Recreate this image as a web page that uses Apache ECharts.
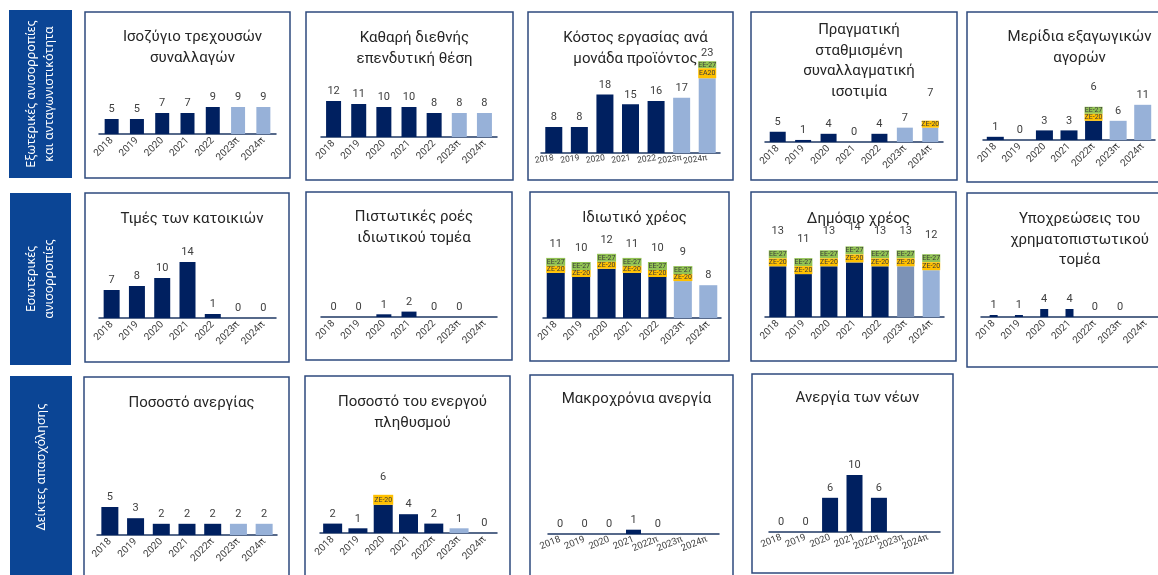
<!DOCTYPE html>
<html>
<head>
<meta charset="utf-8">
<script src="https://cdn.jsdelivr.net/npm/echarts@6/dist/echarts.min.js"></script>
<style>
  html, body { margin: 0; padding: 0; background: #fff; }
  #chart { width: 1158px; height: 575px; }
</style>
</head>
<body>
<div id="chart"></div>
<script>
// categories
const years = ["2018", "2019", "2020", "2021", "2022", "2023π", "2024π"];
const yearsP = ["2018", "2019", "2020", "2021", "2022π", "2023π", "2024π"];

// values (bar heights / labels)
const currentAccount = [5, 5, 7, 7, 9, 9, 9];
const netIip = [12, 11, 10, 10, 8, 8, 8];
const unitLabourCost = [8, 8, 18, 15, 16, 17, 23];
const reer = [5, 1, 4, 0, 4, 7, 7];
const exportShares = [1, 0, 3, 3, 6, 6, 11];
const housePrices = [7, 8, 10, 14, 1, 0, 0];
const privateCredit = [0, 0, 1, 2, 0, 0, null];
const privateDebt = [11, 10, 12, 11, 10, 9, 8];
const publicDebt = [13, 11, 13, 14, 13, 13, 12];
const financialLiabilities = [1, 1, 4, 4, 0, 0, null];
const unemployment = [5, 3, 2, 2, 2, 2, 2];
const activityRate = [2, 1, 6, 4, 2, 1, 0];
const longTermUnemployment = [0, 0, 0, 1, 0, null, null];
const youthUnemployment = [0, 0, 6, 10, 6, null, null];

// where the EU / euro-area reference marks sit on top of a bar
const ulcRefs = [0, 0, 0, 0, 0, 0, 1];
const reerRefs = [0, 0, 0, 0, 0, 0, 1];
const exportRefs = [0, 0, 0, 0, 1, 0, 0];
const privateDebtRefs = [1, 1, 1, 1, 1, 1, 0];
const publicDebtRefs = [1, 1, 1, 1, 1, 1, 1];
const activityRefs = [0, 0, 1, 0, 0, 0, 0];

const groupLabels = [
  "Εξωτερικές ανισορροπίες\nκαι ανταγωνιστικότητα",
  "Εσωτερικές\nανισορροπίες",
  "Δείκτες απασχόλησης",
];

const NAVY = "#002060";
const LIGHT = "#97b1d8";
const FONT = "Roboto";

const panels = [
  { title: "Ισοζύγιο τρεχουσών\nσυναλλαγών", cats: years, values: currentAccount,
    box: [85, 12, 205, 166], axis: [99, 276], base: 134, ppu: 3, titleTop: 22, barW: 14 },
  { title: "Καθαρή διεθνής\nεπενδυτική θέση", cats: years, values: netIip,
    box: [306, 12, 207, 168], axis: [321, 497], base: 137, ppu: 3, titleTop: 23, barW: 15 },
  { title: "Κόστος εργασίας ανά\nμονάδα προϊόντος", cats: years, values: unitLabourCost,
    box: [528, 12, 205, 168], axis: [541, 720], base: 153, ppu: 3.25, titleTop: 23, barW: 17,
    rotate: 8, labelSize: 8.5,
    refs: ulcRefs, tags: ["ΕΕ-27", "ΕΑ20"], tagH: [7, 10], gap: 1 },
  { title: "Πραγματική\nσταθμισμένη\nσυναλλαγματική\nισοτιμία", cats: years, values: reer,
    box: [751, 12, 206, 168], axis: [765, 943], base: 142, ppu: 2.05, titleTop: 15, barW: 16,
    refs: reerRefs, tags: ["ΖΕ-20"], tagH: [7], gap: 20 },
  { title: "Μερίδια εξαγωγικών\nαγορών", cats: yearsP, values: exportShares,
    box: [967, 12, 215, 170], axis: [983, 1155], base: 140, ppu: 3.2, titleTop: 22, barW: 17,
    refs: exportRefs, tags: ["ΕΕ-27", "ΖΕ-20"], tagH: [7, 7], gap: 13 },

  { title: "Τιμές των κατοικιών", cats: years, values: housePrices,
    box: [85, 193, 204, 169], axis: [99, 276], base: 318, ppu: 4, titleTop: 204, barW: 16 },
  { title: "Πιστωτικές ροές\nιδιωτικού τομέα", cats: years, values: privateCredit,
    box: [306, 192, 206, 168], axis: [321, 497], base: 317, ppu: 2.7, titleTop: 202, barW: 15 },
  { title: "Ιδιωτικό χρέος", cats: years, values: privateDebt,
    box: [530, 192, 199, 169], axis: [543, 721], base: 318, ppu: 4.1, titleTop: 203, barW: 18,
    refs: privateDebtRefs, tags: ["ΕΕ-27", "ΖΕ-20"], tagH: [8, 7], gap: 7 },
  { title: "Δημόσιο χρέος", cats: years, values: publicDebt,
    box: [751, 192, 205, 169], axis: [765, 944], base: 317, ppu: 3.9, titleTop: 204, barW: 17,
    refs: publicDebtRefs, tags: ["ΕΕ-27", "ΖΕ-20"], tagH: [8, 8], gap: 12, mid2023: true },
  { title: "Υποχρεώσεις του\nχρηματοπιστωτικού\nτομέα", cats: yearsP, values: financialLiabilities,
    box: [967, 193, 215, 174], axis: [981, 1158], base: 317, ppu: 2, titleTop: 204, barW: 8 },

  { title: "Ποσοστό ανεργίας", cats: yearsP, values: unemployment,
    box: [84, 377, 205, 220], axis: [97, 277], base: 535, ppu: 5.6, titleTop: 388, barW: 17 },
  { title: "Ποσοστό του ενεργού\nπληθυσμού", cats: yearsP, values: activityRate,
    box: [305, 376, 205, 220], axis: [320, 497], base: 533, ppu: 4.7, titleTop: 387, barW: 19,
    refs: activityRefs, tags: ["ΖΕ-20"], tagH: [10], gap: 11 },
  { title: "Μακροχρόνια ανεργία", cats: yearsP, values: longTermUnemployment,
    box: [530, 375, 203, 220], axis: [548, 719], base: 534, ppu: 4.3, titleTop: 384, barW: 15,
    rotate: 22, labelSize: 9.5 },
  { title: "Ανεργία των νέων", cats: yearsP, values: youthUnemployment,
    box: [752, 374, 201, 199], axis: [769, 940], base: 532, ppu: 5.7, titleTop: 383, barW: 16,
    rotate: 22, labelSize: 9.5 },
];

const chart = echarts.init(document.getElementById("chart"));

const grids = [], xAxes = [], yAxes = [], series = [], titles = [], graphics = [];

const sideBoxes = [[9, 10, 63, 168], [10, 193, 61, 172], [10, 376, 62, 210]];
sideBoxes.forEach((b, i) => {
  graphics.push({ type: "rect", shape: { x: b[0], y: b[1], width: b[2], height: b[3] },
    style: { fill: "#0b4595" }, z: 1 });
  const cy = i === 2 ? 467 : b[1] + b[3] / 2;
  graphics.push({ type: "text", x: b[0] + b[2] / 2, y: cy, rotation: Math.PI / 2, z: 2,
    style: { text: groupLabels[i], fill: "#fff", font: '12.5px "Noto Sans"', lineHeight: 18,
      textAlign: "center", textVerticalAlign: "middle", align: "center", verticalAlign: "middle" } });
});

panels.forEach((p, i) => {
  const [bx, by, bw, bh] = p.box;
  graphics.push({ type: "rect", shape: { x: bx, y: by, width: bw, height: bh },
    style: { fill: "none", stroke: "#2e4a7d", lineWidth: 1.5 }, z: 1 });

  titles.push({ text: p.title, left: bx + bw / 2, top: p.titleTop, textAlign: "center",
    textStyle: { fontFamily: FONT, fontSize: 15, fontWeight: "normal", color: "#262626", lineHeight: 20.5 } });

  const h = p.base - by - 8;
  grids.push({ left: p.axis[0], width: p.axis[1] - p.axis[0], top: p.base - h, height: h, containLabel: false });
  xAxes.push({ gridIndex: i, type: "category", data: p.cats,
    axisLine: { lineStyle: { color: "#1f3864", width: 1.5 } }, axisTick: { show: false },
    axisLabel: { interval: 0, rotate: p.rotate === undefined ? 45 : p.rotate, fontSize: p.labelSize || 10,
      margin: 5, color: "#404040", fontFamily: FONT } });
  yAxes.push({ gridIndex: i, show: false, min: 0, max: h / p.ppu, splitLine: { show: false } });

  const data = p.values.map((v, k) => {
    const item = { value: v };
    if (p.refs && p.refs[k]) {
      const rich = {
        n: { fontSize: 11, color: "#404040", lineHeight: 14, fontFamily: FONT },
        g: { height: p.gap, lineHeight: p.gap, fontSize: 1 },
      };
      let txt = "{n|" + v + "}\n{g| }";
      p.tags.forEach((t, j) => {
        rich["t" + j] = { backgroundColor: t === "ΕΕ-27" ? "#92c353" : "#ffc000",
          width: p.barW + 1, height: p.tagH[j], lineHeight: p.tagH[j], fontSize: 7,
          color: "#3a3a3a", align: "center", fontFamily: FONT };
        txt += "\n{t" + j + "|" + t + "}";
      });
      item.label = { formatter: txt, rich: rich, distance: 0 };
    }
    return item;
  });

  series.push({ type: "bar", xAxisIndex: i, yAxisIndex: i, barWidth: p.barW, data: data,
    itemStyle: { color: (prm) => prm.dataIndex < 5 ? NAVY : (p.mid2023 && prm.dataIndex === 5 ? "#7c92b6" : LIGHT) },
    label: { show: true, position: "top", distance: 4, fontSize: 11, color: "#404040", fontFamily: FONT },
    emphasis: { disabled: true }, animation: false });
});

chart.setOption({
  backgroundColor: "#fff",
  animation: false,
  title: titles,
  grid: grids,
  xAxis: xAxes,
  yAxis: yAxes,
  series: series,
  graphic: graphics,
});
</script>
</body>
</html>
